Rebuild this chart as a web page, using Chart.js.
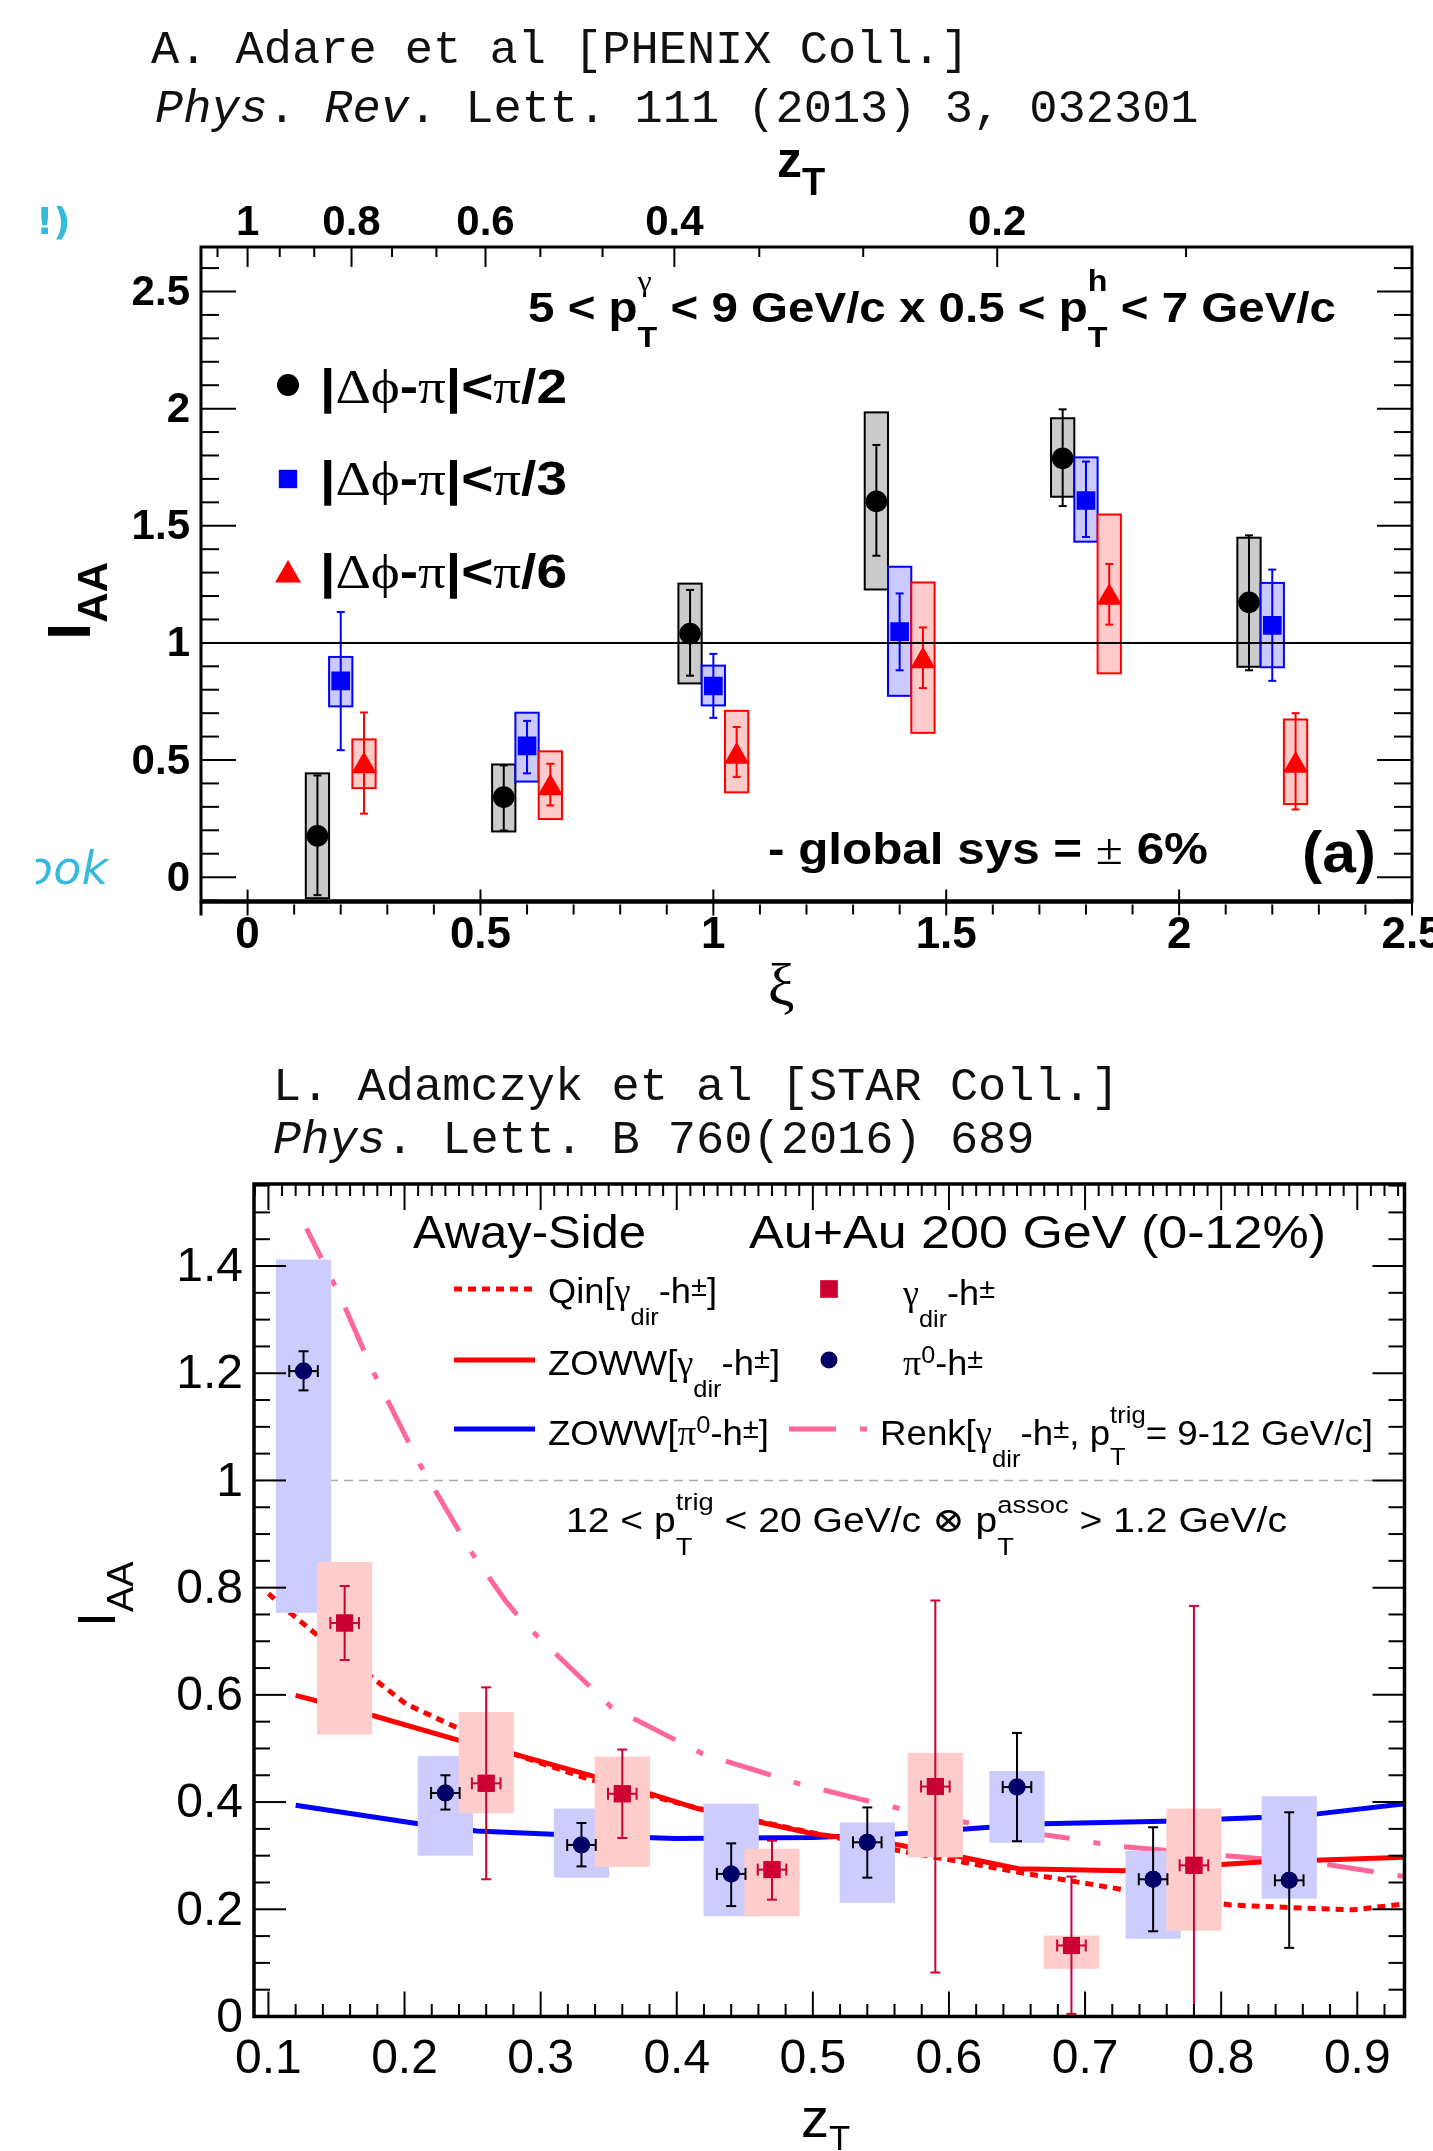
<!DOCTYPE html>
<html>
<head>
<meta charset="utf-8">
<script src="https://cdn.jsdelivr.net/npm/chart.js@4.4.1/dist/chart.umd.min.js"></script>
<style>
html, body { margin: 0; padding: 0; background: #fff; width: 1433px; height: 2151px; overflow: hidden; }
canvas { position: absolute; left: 0; }
#phenix { top: 0; width: 1433px; height: 1040px; }
#star { top: 1040px; width: 1433px; height: 1111px; }
</style>
</head>
<body>
<canvas id="phenix" width="1433" height="1040"></canvas>
<canvas id="star" width="1433" height="1111"></canvas>
<script>
const SANS = '"Liberation Sans", Arial, Helvetica, sans-serif';
const GREEK = '"Liberation Serif", "DejaVu Serif", serif';
const MONO = '"Liberation Mono", "DejaVu Sans Mono", monospace';

// ---------- PHENIX panel: I_AA vs xi ----------
const xiTicks = [0, 0.5, 1, 1.5, 2, 2.5];
const xiTickLabels = ['0', '0.5', '1', '1.5', '2', '2.5'];
const phxIaaTicks = [0, 0.5, 1, 1.5, 2, 2.5];
const phxIaaLabels = ['0', '0.5', '1', '1.5', '2', '2.5'];
const ztTopTicks = [1, 0.8, 0.6, 0.4, 0.2];
const ztTopLabels = ['1', '0.8', '0.6', '0.4', '0.2'];

// |dphi-pi| < pi/2
const halfPiXi = [0.15, 0.55, 0.95, 1.35, 1.75, 2.15];
const halfPiIaa = [0.176, 0.342, 1.04, 1.604, 1.788, 1.173];
const halfPiStatLo = [-0.077, 0.199, 0.86, 1.372, 1.584, 0.883];
const halfPiStatHi = [0.434, 0.477, 1.226, 1.845, 1.997, 1.459];
const halfPiSysLo = [-0.09, 0.195, 0.827, 1.228, 1.624, 0.898];
const halfPiSysHi = [0.443, 0.481, 1.253, 1.984, 1.959, 1.449];
// |dphi-pi| < pi/3
const thirdPiXi = [0.2, 0.6, 1.0, 1.4, 1.8, 2.2];
const thirdPiIaa = [0.838, 0.56, 0.816, 1.048, 1.608, 1.075];
const thirdPiStatLo = [0.542, 0.443, 0.68, 0.883, 1.452, 0.838];
const thirdPiStatHi = [1.132, 0.667, 0.953, 1.211, 1.774, 1.313];
const thirdPiSysLo = [0.729, 0.408, 0.733, 0.774, 1.432, 0.896];
const thirdPiSysHi = [0.94, 0.702, 0.903, 1.325, 1.792, 1.256];
// |dphi-pi| < pi/6
const sixthPiXi = [0.25, 0.65, 1.05, 1.45, 1.85, 2.25];
const sixthPiIaa = [0.474, 0.38, 0.515, 0.923, 1.194, 0.477];
const sixthPiStatLo = [0.271, 0.306, 0.428, 0.807, 1.078, 0.289];
const sixthPiStatHi = [0.703, 0.484, 0.641, 1.066, 1.337, 0.7];
const sixthPiSysLo = [0.38, 0.248, 0.362, 0.616, 0.87, 0.312];
const sixthPiSysHi = [0.588, 0.537, 0.71, 1.258, 1.548, 0.673];

// ---------- STAR panel: I_AA vs zT ----------
const ztTicks = [0.1, 0.2, 0.3, 0.4, 0.5, 0.6, 0.7, 0.8, 0.9];
const ztTickLabels = ['0.1', '0.2', '0.3', '0.4', '0.5', '0.6', '0.7', '0.8', '0.9'];
const starIaaTicks = [0, 0.2, 0.4, 0.6, 0.8, 1, 1.2, 1.4];
const starIaaLabels = ['0', '0.2', '0.4', '0.6', '0.8', '1', '1.2', '1.4'];

const pi0Zt = [0.1258, 0.23, 0.33, 0.44, 0.54, 0.65, 0.75, 0.85];
const pi0Iaa = [1.204, 0.417, 0.32, 0.266, 0.325, 0.428, 0.256, 0.254];
const pi0StatLo = [1.168, 0.386, 0.28, 0.206, 0.259, 0.327, 0.159, 0.128];
const pi0StatHi = [1.241, 0.45, 0.361, 0.323, 0.39, 0.529, 0.353, 0.381];
const pi0SysLo = [0.753, 0.30, 0.259, 0.187, 0.212, 0.324, 0.145, 0.22];
const pi0SysHi = [1.412, 0.486, 0.388, 0.397, 0.362, 0.458, 0.309, 0.411];

const gamZt = [0.156, 0.26, 0.36, 0.47, 0.59, 0.69, 0.78];
const gamIaa = [0.734, 0.435, 0.4155, 0.274, 0.429, 0.1325, 0.282];
const gamStatLo = [0.665, 0.256, 0.333, 0.218, 0.082, 0.005, 0.0];
const gamStatHi = [0.803, 0.614, 0.498, 0.328, 0.776, 0.261, 0.766];
const gamSysLo = [0.526, 0.379, 0.279, 0.187, 0.297, 0.089, 0.16];
const gamSysHi = [0.848, 0.568, 0.485, 0.313, 0.492, 0.151, 0.388];

const qinZt = [0.10, 0.117, 0.136, 0.176, 0.201, 0.235, 0.280, 0.335, 0.413, 0.486, 0.562, 0.651, 0.725, 0.807, 0.862, 0.897, 0.935];
const qinIaa = [0.789, 0.751, 0.711, 0.633, 0.583, 0.543, 0.490, 0.443, 0.390, 0.350, 0.310, 0.269, 0.238, 0.208, 0.202, 0.199, 0.21];
const zowwGamZt = [0.12, 0.176, 0.24, 0.28, 0.341, 0.416, 0.50, 0.559, 0.61, 0.651, 0.728, 0.829, 0.935];
const zowwGamIaa = [0.599, 0.562, 0.515, 0.49, 0.4465, 0.3875, 0.341, 0.322, 0.297, 0.2755, 0.272, 0.288, 0.297];
const zowwPiZt = [0.12, 0.21, 0.253, 0.326, 0.399, 0.50, 0.559, 0.63, 0.669, 0.758, 0.829, 0.871, 0.935];
const zowwPiIaa = [0.394, 0.3595, 0.346, 0.338, 0.332, 0.334, 0.34, 0.353, 0.3595, 0.364, 0.371, 0.378, 0.397];
const renkZt = [0.128, 0.139, 0.153, 0.176, 0.211, 0.25, 0.274, 0.283, 0.297, 0.352, 0.419, 0.49, 0.534, 0.57, 0.63, 0.687, 0.719, 0.817, 0.874, 0.935];
const renkIaa = [1.47, 1.414, 1.342, 1.208, 1.031, 0.863, 0.776, 0.748, 0.711, 0.577, 0.49, 0.434, 0.406, 0.384, 0.353, 0.333, 0.319, 0.297, 0.285, 0.261];

const unityIaa = 1;

// ---------- helpers ----------
function pts(xs, ys) { return xs.map((v, i) => ({ x: v, y: ys[i] })); }

function line(ctx, x1, y1, x2, y2) {
    ctx.beginPath(); ctx.moveTo(x1, y1); ctx.lineTo(x2, y2); ctx.stroke();
}

// text with sub/superscripts, optionally squeezed to a given width
function drawRich(ctx, segs, x, y, o) {
    const opt = Object.assign({ size: 40, bold: false, family: SANS, scr: 0.7, subDy: 0.62, supDy: 0.6, align: 'left', color: '#000' }, o);
    const fontFor = (sz, greek, italic) =>
        (italic ? 'italic ' : '') + (opt.bold && !greek ? 'bold ' : '') + sz.toFixed(1) + 'px ' + (greek ? GREEK : opt.family);
    const pass = draw => {
        let cx = 0;
        segs.forEach(raw => {
            const s = typeof raw === 'string' ? { t: raw } : raw;
            if (s.t !== undefined) {
                ctx.font = fontFor(opt.size, s.g, s.it);
                if (draw) ctx.fillText(s.t, cx, 0);
                cx += ctx.measureText(s.t).width;
                return;
            }
            const ss = opt.size * (s.scr || opt.scr);
            let w = 0;
            if (s.sub) {
                ctx.font = fontFor(ss, s.gsub);
                if (draw) ctx.fillText(s.sub, cx, opt.size * (s.subDy ?? opt.subDy));
                w = Math.max(w, ctx.measureText(s.sub).width);
            }
            if (s.sup) {
                ctx.font = fontFor(ss, s.gsup);
                if (draw) ctx.fillText(s.sup, cx, -opt.size * (s.supDy ?? opt.supDy));
                w = Math.max(w, ctx.measureText(s.sup).width);
            }
            cx += w;
        });
        return cx;
    };
    ctx.save();
    ctx.textAlign = 'left';
    ctx.textBaseline = 'alphabetic';
    ctx.fillStyle = opt.color;
    const natural = pass(false);
    const sx = opt.width ? opt.width / natural : 1;
    const shift = opt.align === 'center' ? natural * sx / 2 : (opt.align === 'right' ? natural * sx : 0);
    ctx.translate(x - shift, y);
    ctx.scale(sx, 1);
    pass(true);
    ctx.restore();
}

function marker(ctx, style, x, y, r, color) {
    ctx.save();
    ctx.fillStyle = color;
    ctx.beginPath();
    if (style === 'circle') ctx.arc(x, y, r, 0, Math.PI * 2);
    else if (style === 'rect') { const h = r * Math.SQRT1_2; ctx.rect(x - h, y - h, 2 * h, 2 * h); }
    else { const w = r * Math.sqrt(3) / 2; ctx.moveTo(x, y - r); ctx.lineTo(x + w, y + r / 2); ctx.lineTo(x - w, y + r / 2); ctx.closePath(); }
    ctx.fill();
    ctx.restore();
}

// ---------- PHENIX chart ----------
const phenixSeries = [
    { x: halfPiXi, lo: halfPiStatLo, hi: halfPiStatHi, sLo: halfPiSysLo, sHi: halfPiSysHi, color: '#000000', fill: '#cbcbcb' },
    { x: thirdPiXi, lo: thirdPiStatLo, hi: thirdPiStatHi, sLo: thirdPiSysLo, sHi: thirdPiSysHi, color: '#0000ff', fill: '#cacaff' },
    { x: sixthPiXi, lo: sixthPiStatLo, hi: sixthPiStatHi, sLo: sixthPiSysLo, sHi: sixthPiSysHi, color: '#ff0000', fill: '#ffcaca' }
];

const phenixDecor = {
    id: 'phenixDecor',
    beforeDatasetsDraw(chart) {
        const { ctx, scales: { x, y } } = chart;
        ctx.save();
        phenixSeries.forEach(s => {
            s.x.forEach((xv, i) => {
                const l = x.getPixelForValue(xv - 0.025), r = x.getPixelForValue(xv + 0.025);
                const t = y.getPixelForValue(s.sHi[i]), b = y.getPixelForValue(s.sLo[i]);
                ctx.fillStyle = s.fill;
                ctx.fillRect(l, t, r - l, b - t);
                ctx.strokeStyle = s.color; ctx.lineWidth = 2;
                ctx.strokeRect(l, t, r - l, b - t);
            });
        });
        phenixSeries.forEach(s => {
            ctx.strokeStyle = s.color; ctx.lineWidth = 2;
            s.x.forEach((xv, i) => {
                const px = x.getPixelForValue(xv);
                const t = y.getPixelForValue(s.hi[i]), b = y.getPixelForValue(s.lo[i]);
                line(ctx, px, t, px, b);
                line(ctx, px - 4, t, px + 4, t);
                line(ctx, px - 4, b, px + 4, b);
            });
        });
        ctx.restore();
    },
    afterDatasetsDraw(chart) {
        const { ctx, chartArea: { left, right, top, bottom }, scales: { x, y } } = chart;
        ctx.save();
        ctx.strokeStyle = '#000';
        ctx.lineWidth = 2;
        for (let k = -1; k <= 26; k++) {
            const v = k / 10;
            if (v < y.min || v > y.max) continue;
            const py = y.getPixelForValue(v), len = k % 5 === 0 ? 35 : 18;
            line(ctx, left, py, left + len, py);
            line(ctx, right, py, right - len, py);
        }
        for (let k = -1; k <= 25; k++) {
            const px = x.getPixelForValue(k / 10);
            if (k % 5 === 0) line(ctx, px, bottom - 12, px, bottom + 14);
            else line(ctx, px, bottom + 3, px, bottom + 13);
        }
        for (let k = 2; k <= 16; k++) {
            const px = x.getPixelForValue(-Math.log(k / 15));
            if (px < left || px > right) continue;
            line(ctx, px, top, px, top + (k % 3 === 0 ? 20 : 10));
        }
        ctx.lineWidth = 3;
        ctx.strokeRect(left, top, right - left, bottom - top);
        ctx.lineWidth = 4.5;
        line(ctx, left, bottom, right, bottom);
        ctx.lineWidth = 3;
        line(ctx, left, bottom, left, bottom + 14);

        // tick labels
        ctx.fillStyle = '#000';
        ctx.font = 'bold 42px ' + SANS;
        ctx.textAlign = 'right'; ctx.textBaseline = 'middle';
        phxIaaTicks.forEach((v, i) => ctx.fillText(phxIaaLabels[i], 190, y.getPixelForValue(v) + 2));
        ctx.font = 'bold 44px ' + SANS;
        ctx.textAlign = 'center'; ctx.textBaseline = 'alphabetic';
        xiTicks.forEach((v, i) => ctx.fillText(xiTickLabels[i], x.getPixelForValue(v), 948));
        ctx.font = 'bold 42px ' + SANS;
        ztTopTicks.forEach((z, i) => ctx.fillText(ztTopLabels[i], x.getPixelForValue(-Math.log(z)), 235));

        // axis titles
        drawRich(ctx, ['z', { sub: 'T', scr: 0.76, subDy: 0.36 }], 777, 177, { size: 50, bold: true });
        ctx.font = '60px ' + GREEK;
        ctx.fillText('ξ', 781, 1005);
        ctx.save();
        ctx.translate(90, 640);
        ctx.rotate(-Math.PI / 2);
        drawRich(ctx, ['I', { sub: 'AA', scr: 0.68, subDy: 0.27 }], 0, 0, { size: 62, bold: true });
        ctx.restore();

        // in-frame texts
        drawRich(ctx, ['5 < p', { sub: 'T', sup: 'γ', gsup: true }, ' < 9 GeV/c x 0.5 < p', { sub: 'T', sup: 'h' }, ' < 7 GeV/c'],
            528, 322, { size: 43, bold: true, width: 808, subDy: 0.58, supDy: 0.72, scr: 0.68 });
        const legendRows = [
            { style: 'circle', r: 11, color: '#000', my: 385, ty: 403, end: '/2' },
            { style: 'rect', r: 13, color: '#0000ff', my: 479, ty: 495, end: '/3' },
            { style: 'triangle', r: 15, color: '#ff0000', my: 575, ty: 588, end: '/6' }
        ];
        legendRows.forEach(row => {
            marker(ctx, row.style, 288, row.my, row.r, row.color);
            drawRich(ctx, ['|', { t: 'Δϕ', g: true }, '-', { t: 'π', g: true }, '|<', { t: 'π', g: true }, row.end],
                320, row.ty, { size: 48, bold: true, width: 247 });
        });
        drawRich(ctx, ['- global sys = ', { t: '±', g: true }, ' 6%'], 768, 864, { size: 44, bold: true, width: 440 });
        drawRich(ctx, ['(a)'], 1302, 872, { size: 58, bold: true, width: 74 });

        // citation
        drawRich(ctx, ['A. Adare et al [PHENIX Coll.]'], 151, 63, { size: 47, family: MONO, color: '#111' });
        drawRich(ctx, [{ t: 'Phys', it: true }, '. ', { t: 'Rev', it: true }, '. Lett. 111 (2013) 3, 032301'], 155, 122, { size: 47, family: MONO, color: '#111' });

        // hand-written marks at the margin
        ctx.save();
        ctx.beginPath(); ctx.rect(36, 180, 140, 740); ctx.clip();
        ctx.fillStyle = '#35b9dc';
        ctx.font = 'italic 46px "DejaVu Sans", sans-serif';
        ctx.textAlign = 'left';
        ctx.fillText('ɔok', 28, 884);
        ctx.font = 'bold 38px "DejaVu Sans", sans-serif';
        ctx.fillText('!)', 36, 234);
        ctx.restore();
        ctx.restore();
    }
};

new Chart(document.getElementById('phenix'), {
    type: 'scatter',
    data: {
        datasets: [
            { label: '|Δϕ-π|<π/2', data: pts(halfPiXi, halfPiIaa), pointStyle: 'circle', pointRadius: 10.8, backgroundColor: '#000', borderColor: '#000', borderWidth: 0 },
            { label: '|Δϕ-π|<π/3', data: pts(thirdPiXi, thirdPiIaa), pointStyle: 'rect', pointRadius: 13.2, backgroundColor: '#0000ff', borderColor: '#0000ff', borderWidth: 0 },
            { label: '|Δϕ-π|<π/6', data: pts(sixthPiXi, sixthPiIaa), pointStyle: 'triangle', pointRadius: 14.5, backgroundColor: '#ff0000', borderColor: '#ff0000', borderWidth: 0 },
            { label: 'unity', data: [{ x: -0.1, y: unityIaa }, { x: 2.5, y: unityIaa }], showLine: true, pointRadius: 0, borderColor: '#000', borderWidth: 2 }
        ]
    },
    options: {
        responsive: false, animation: false, devicePixelRatio: 1, events: [],
        layout: { padding: { left: 201, right: 21, top: 247, bottom: 138.5 } },
        plugins: { legend: { display: false }, tooltip: { enabled: false } },
        scales: {
            x: { type: 'linear', min: -0.1, max: 2.5, display: false },
            y: { type: 'linear', min: -0.104, max: 2.69, display: false }
        }
    },
    plugins: [phenixDecor]
});

// ---------- STAR chart ----------
const starSeries = [
    { x: pi0Zt, lo: pi0StatLo, hi: pi0StatHi, sLo: pi0SysLo, sHi: pi0SysHi, color: '#000000', fill: '#ccccff' },
    { x: gamZt, lo: gamStatLo, hi: gamStatHi, sLo: gamSysLo, sHi: gamSysHi, color: '#cc0033', fill: '#ffcccc' }
];
const QIN_INDEX = 2;

function starMarkers(ctx, x, y) {
    gamZt.forEach((v, i) => marker(ctx, 'rect', x.getPixelForValue(v), y.getPixelForValue(gamIaa[i]), 12, '#cc0033'));
    pi0Zt.forEach((v, i) => marker(ctx, 'circle', x.getPixelForValue(v), y.getPixelForValue(pi0Iaa[i]), 8.5, '#000066'));
}

const starDecor = {
    id: 'starDecor',
    afterDatasetDraw(chart, args) {
        if (args.index !== QIN_INDEX) return;
        const { ctx, scales: { x, y } } = chart;
        ctx.save();
        starSeries.forEach(s => {
            ctx.fillStyle = s.fill;
            s.x.forEach((xv, i) => {
                const l = x.getPixelForValue(xv - 0.0203), r = x.getPixelForValue(xv + 0.0203);
                const t = y.getPixelForValue(s.sHi[i]), b = y.getPixelForValue(s.sLo[i]);
                ctx.fillRect(l, t, r - l, b - t);
            });
        });
        starSeries.forEach(s => {
            ctx.strokeStyle = s.color; ctx.lineWidth = 2;
            s.x.forEach((xv, i) => {
                const px = x.getPixelForValue(xv);
                const t = y.getPixelForValue(s.hi[i]), b = y.getPixelForValue(s.lo[i]);
                line(ctx, px, t, px, b);
                line(ctx, px - 5, t, px + 5, t);
                line(ctx, px - 5, b, px + 5, b);
            });
        });
        ctx.restore();
    },
    afterDatasetsDraw(chart) {
        const { ctx, chartArea: { left, right, top, bottom }, scales: { x, y } } = chart;
        ctx.save();
        // horizontal error bars
        ctx.lineWidth = 2;
        [[pi0Zt, pi0Iaa, '#000000'], [gamZt, gamIaa, '#cc0033']].forEach(([xs, ys, c]) => {
            ctx.strokeStyle = c;
            xs.forEach((xv, i) => {
                const l = x.getPixelForValue(xv - 0.0105), r = x.getPixelForValue(xv + 0.0105), py = y.getPixelForValue(ys[i]);
                line(ctx, l, py, r, py);
                line(ctx, l, py - 6, l, py + 6);
                line(ctx, r, py - 6, r, py + 6);
            });
        });
        starMarkers(ctx, x, y);

        ctx.strokeStyle = '#000';
        ctx.lineWidth = 2;
        for (let k = 0; k <= 31; k++) {
            const v = k * 0.05;
            if (v > y.max) continue;
            const py = y.getPixelForValue(v), len = k % 4 === 0 ? 32 : 16;
            line(ctx, left, py, left + len, py);
            line(ctx, right, py, right - len, py);
        }
        for (let k = 5; k <= 46; k++) {
            const v = k * 0.02;
            if (v < x.min || v > x.max) continue;
            const px = x.getPixelForValue(v);
            line(ctx, px, bottom, px, bottom - (k % 5 === 0 ? 25 : 12.5));
        }
        for (let k = 9; k <= 93; k++) {
            const v = k / 100;
            if (v < x.min || v > x.max) continue;
            const px = x.getPixelForValue(v);
            line(ctx, px, top, px, top + (k % 10 === 0 ? 26 : 12));
        }
        ctx.lineWidth = 3.5;
        ctx.strokeRect(left, top, right - left, bottom - top);

        // tick labels
        ctx.fillStyle = '#000';
        ctx.font = '48px ' + SANS;
        ctx.textAlign = 'right'; ctx.textBaseline = 'middle';
        starIaaTicks.forEach((v, i) => ctx.fillText(starIaaLabels[i], 243, y.getPixelForValue(v) + 2));
        ctx.textAlign = 'center'; ctx.textBaseline = 'alphabetic';
        ztTicks.forEach((v, i) => ctx.fillText(ztTickLabels[i], x.getPixelForValue(v), 1033));

        // axis titles
        drawRich(ctx, ['z', { sub: 'T', scr: 0.62, subDy: 0.23 }], 801, 1097, { size: 56 });
        ctx.save();
        ctx.translate(115, 587);
        ctx.rotate(-Math.PI / 2);
        drawRich(ctx, ['I', { sub: 'AA', scr: 0.7, subDy: 0.33 }], 0, 0, { size: 54 });
        ctx.restore();

        // headings
        drawRich(ctx, ['Away-Side'], 413, 208, { size: 46, width: 233 });
        drawRich(ctx, ['Au+Au 200 GeV (0-12%)'], 749, 208, { size: 46, width: 577 });

        // legend
        const G = { t: 'γ', g: true };
        const PM = { sup: '±', supDy: 0.2, scr: 0.8 };
        ctx.lineWidth = 5;
        ctx.lineCap = 'butt';
        ctx.strokeStyle = '#ff0000';
        ctx.setLineDash([8, 6]);
        line(ctx, 454, 249, 535, 249);
        ctx.setLineDash([]);
        line(ctx, 454, 320, 535, 320);
        ctx.strokeStyle = '#0000ff';
        line(ctx, 454, 389, 535, 389);
        ctx.strokeStyle = '#ff6699';
        ctx.setLineDash([47, 24, 7, 24]);
        line(ctx, 789, 389, 869, 389);
        ctx.setLineDash([]);
        drawRich(ctx, ['Qin[', G, { sub: 'dir' }, '-h', PM, ']'], 548, 263, { size: 35, width: 169 });
        drawRich(ctx, ['ZOWW[', G, { sub: 'dir' }, '-h', PM, ']'], 548, 335, { size: 35, width: 232 });
        drawRich(ctx, ['ZOWW[', { t: 'π', g: true }, { sup: '0', supDy: 0.34 }, '-h', PM, ']'], 548, 405, { size: 35, width: 221 });
        marker(ctx, 'rect', 829, 249, 12.5, '#cc0033');
        marker(ctx, 'circle', 829, 320, 8.5, '#000066');
        drawRich(ctx, [G, { sub: 'dir' }, '-h', PM], 903, 265, { size: 35, width: 92 });
        drawRich(ctx, [{ t: 'π', g: true }, { sup: '0', supDy: 0.34 }, '-h', PM], 903, 335, { size: 35, width: 80 });
        drawRich(ctx, ['Renk[', G, { sub: 'dir' }, '-h', PM, ', p', { sub: 'T', sup: 'trig', subDy: 0.57, supDy: 0.63 }, '= 9-12 GeV/c]'],
            880, 405, { size: 35, width: 493 });
        drawRich(ctx, ['12 < p', { sub: 'T', sup: 'trig', subDy: 0.66, supDy: 0.62 }, ' < 20 GeV/c ', { t: '⊗', g: true }, ' p',
            { sub: 'T', sup: 'assoc', subDy: 0.66, supDy: 0.55 }, ' > 1.2 GeV/c'], 566, 492, { size: 35, width: 721 });

        // citation
        drawRich(ctx, ['L. Adamczyk et al [STAR Coll.]'], 273, 60, { size: 47, family: MONO, color: '#111' });
        drawRich(ctx, [{ t: 'Phys', it: true }, '. Lett. B 760(2016) 689'], 273, 113, { size: 47, family: MONO, color: '#111' });
        ctx.restore();
    }
};

new Chart(document.getElementById('star'), {
    type: 'scatter',
    data: {
        datasets: [
            { label: 'π0-h±', data: pts(pi0Zt, pi0Iaa), pointStyle: 'circle', pointRadius: 8.5, backgroundColor: '#000066', borderWidth: 0 },
            { label: 'γdir-h±', data: pts(gamZt, gamIaa), pointStyle: 'rect', pointRadius: 12, backgroundColor: '#cc0033', borderWidth: 0 },
            { label: 'Qin', data: pts(qinZt, qinIaa), showLine: true, pointRadius: 0, borderColor: '#ff0000', borderWidth: 5, borderDash: [8, 6], borderCapStyle: 'butt' },
            { label: 'ZOWW γ', data: pts(zowwGamZt, zowwGamIaa), showLine: true, pointRadius: 0, borderColor: '#ff0000', borderWidth: 5 },
            { label: 'ZOWW π0', data: pts(zowwPiZt, zowwPiIaa), showLine: true, pointRadius: 0, borderColor: '#0000ff', borderWidth: 5 },
            { label: 'Renk', data: pts(renkZt, renkIaa), showLine: true, pointRadius: 0, borderColor: '#ff6699', borderWidth: 5, borderDash: [47, 24, 7, 24], borderDashOffset: 14, borderCapStyle: 'butt' },
            { label: 'unity', data: [{ x: 0.0894, y: unityIaa }, { x: 0.9347, y: unityIaa }], showLine: true, pointRadius: 0, borderColor: '#aaaaaa', borderWidth: 1.5, borderDash: [9, 6] }
        ]
    },
    options: {
        responsive: false, animation: false, devicePixelRatio: 1, events: [],
        layout: { padding: { left: 254, right: 28.5, top: 144, bottom: 134.5 } },
        plugins: { legend: { display: false }, tooltip: { enabled: false } },
        scales: {
            x: { type: 'linear', min: 0.0894, max: 0.9347, display: false },
            y: { type: 'linear', min: 0, max: 1.553, display: false }
        }
    },
    plugins: [starDecor]
});
</script>
</body>
</html>
